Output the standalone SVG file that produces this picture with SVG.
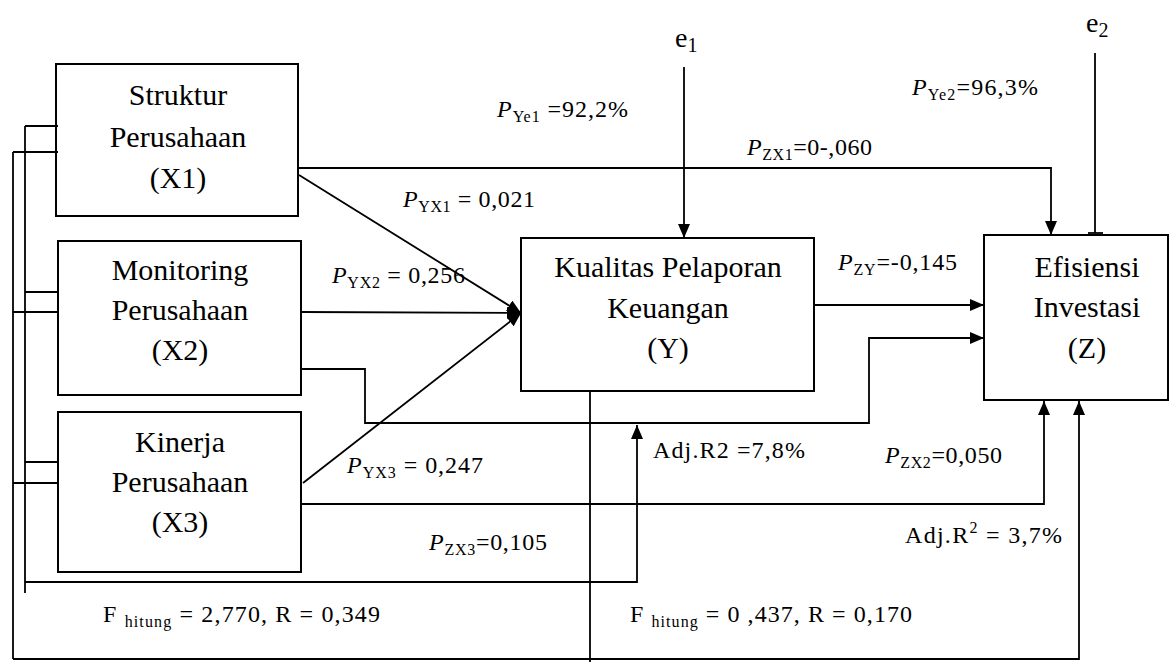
<svg xmlns="http://www.w3.org/2000/svg" width="1174" height="664" viewBox="0 0 1174 664">
<style>
.box{fill:#fff;stroke:#000;stroke-width:2}
.ln{fill:none;stroke:#000;stroke-width:1.8}
.t{font-family:"Liberation Serif","Times New Roman",serif;font-size:30px;fill:#000;text-anchor:middle}
.l{font-family:"Liberation Serif","Times New Roman",serif;font-size:24px;fill:#000}
.i{font-style:italic}
.s{font-size:16px}
.e{font-family:"Liberation Serif","Times New Roman",serif;font-size:28px;fill:#000}
</style>
<defs>
<marker id="ah" markerUnits="userSpaceOnUse" markerWidth="14" markerHeight="12" viewBox="0 0 14 12" refX="14" refY="6" orient="auto">
<path d="M0,0 L14,6 L0,12 z" fill="#000"/>
</marker>
</defs>
<rect width="1174" height="664" fill="#fff"/>
<g id="node-x1">
<rect class="box" x="56" y="64" width="242" height="152"/>
<text class="t" x="178" y="105">Struktur</text>
<text class="t" x="178" y="147">Perusahaan</text>
<text class="t" x="178" y="188">(X1)</text>
</g>
<g id="node-x2">
<rect class="box" x="58" y="241" width="243" height="154"/>
<text class="t" x="180" y="280">Monitoring</text>
<text class="t" x="180" y="320">Perusahaan</text>
<text class="t" x="180" y="360">(X2)</text>
</g>
<g id="node-x3">
<rect class="box" x="58" y="412" width="243" height="160"/>
<text class="t" x="180" y="452">Kinerja</text>
<text class="t" x="180" y="492">Perusahaan</text>
<text class="t" x="180" y="532">(X3)</text>
</g>
<g id="node-y">
<rect class="box" x="521" y="238" width="293" height="153"/>
<text class="t" x="668" y="277">Kualitas Pelaporan</text>
<text class="t" x="668" y="318">Keuangan</text>
<text class="t" x="668" y="358">(Y)</text>
</g>
<g id="node-z">
<rect class="box" x="984" y="235" width="184" height="165"/>
<text class="t" x="1087" y="277">Efisiensi</text>
<text class="t" x="1087" y="317">Investasi</text>
<text class="t" x="1087" y="358">(Z)</text>
</g>
<g id="node-e1">
<text class="e" x="675" y="47">e<tspan font-size="20" dy="5">1</tspan></text>
</g>
<g id="node-e2">
<text class="e" x="1086" y="32">e<tspan font-size="20" dy="5">2</tspan></text>
</g>
<g id="connectors">
<line class="ln" x1="299" y1="175" x2="521" y2="313" marker-end="url(#ah)"/>
<line class="ln" x1="301" y1="312" x2="521" y2="313" marker-end="url(#ah)"/>
<line class="ln" x1="303" y1="483" x2="521" y2="313" marker-end="url(#ah)"/>
<polyline class="ln" points="298,168 1051,168 1051,235" marker-end="url(#ah)"/>
<line class="ln" x1="684" y1="67" x2="684" y2="238" marker-end="url(#ah)"/>
<line class="ln" x1="1095" y1="53" x2="1095" y2="233"/>
<line class="ln" x1="1088" y1="233" x2="1103" y2="233"/>
<line class="ln" x1="814" y1="305" x2="984" y2="305" marker-end="url(#ah)"/>
<polyline class="ln" points="301,369 365,369 365,423 869,423 869,338 984,338" marker-end="url(#ah)"/>
<polyline class="ln" points="301,504 1044,504 1044,401" marker-end="url(#ah)"/>
<line class="ln" x1="25" y1="126" x2="25" y2="593"/>
<line class="ln" x1="25" y1="126" x2="58" y2="126"/>
<line class="ln" x1="25" y1="292" x2="59" y2="292"/>
<line class="ln" x1="25" y1="462" x2="59" y2="462"/>
<polyline class="ln" points="25,582 637,582 637,425" marker-end="url(#ah)"/>
<line class="ln" x1="13" y1="152" x2="13" y2="659"/>
<line class="ln" x1="13" y1="152" x2="58" y2="152"/>
<line class="ln" x1="13" y1="312" x2="59" y2="312"/>
<line class="ln" x1="13" y1="483" x2="59" y2="483"/>
<polyline class="ln" points="13,659 1079,659 1079,401" marker-end="url(#ah)"/>
<line class="ln" x1="590" y1="391" x2="590" y2="662"/>
</g>
<g id="labels">
<text class="l" x="497" y="117" textLength="131"><tspan class="i">P</tspan><tspan class="s" dy="5">Ye1</tspan><tspan dy="-5"> =92,2%</tspan></text>
<text class="l" x="747" y="155" textLength="125"><tspan class="i">P</tspan><tspan class="s" dy="5">ZX1</tspan><tspan dy="-5">=0-,060</tspan></text>
<text class="l" x="912" y="95" textLength="126"><tspan class="i">P</tspan><tspan class="s" dy="5">Ye2</tspan><tspan dy="-5">=96,3%</tspan></text>
<text class="l" x="403" y="207" textLength="132"><tspan class="i">P</tspan><tspan class="s" dy="5">YX1</tspan><tspan dy="-5"> = 0,021</tspan></text>
<text class="l" x="332" y="283" textLength="133"><tspan class="i">P</tspan><tspan class="s" dy="5">YX2</tspan><tspan dy="-5"> = 0,256</tspan></text>
<text class="l" x="838" y="270" textLength="119"><tspan class="i">P</tspan><tspan class="s" dy="5">ZY</tspan><tspan dy="-5">=-0,145</tspan></text>
<text class="l" x="347" y="473" textLength="136"><tspan class="i">P</tspan><tspan class="s" dy="5">YX3</tspan><tspan dy="-5"> = 0,247</tspan></text>
<text class="l" x="429" y="550" textLength="118"><tspan class="i">P</tspan><tspan class="s" dy="5">ZX3</tspan><tspan dy="-5">=0,105</tspan></text>
<text class="l" x="653" y="458" textLength="152">Adj.R2 =7,8%</text>
<text class="l" x="885" y="463" textLength="117"><tspan class="i">P</tspan><tspan class="s" dy="5">ZX2</tspan><tspan dy="-5">=0,050</tspan></text>
<text class="l" x="905" y="543" textLength="157">Adj.R<tspan class="s" dy="-10">2</tspan><tspan dy="10"> = 3,7%</tspan></text>
<text class="l" x="103" y="622" textLength="277">F <tspan class="s" dy="5">hitung</tspan><tspan dy="-5"> = 2,770, R = 0,349</tspan></text>
<text class="l" x="630" y="622" textLength="282">F <tspan class="s" dy="5">hitung</tspan><tspan dy="-5"> = 0 ,437, R = 0,170</tspan></text>
</g>
</svg>
